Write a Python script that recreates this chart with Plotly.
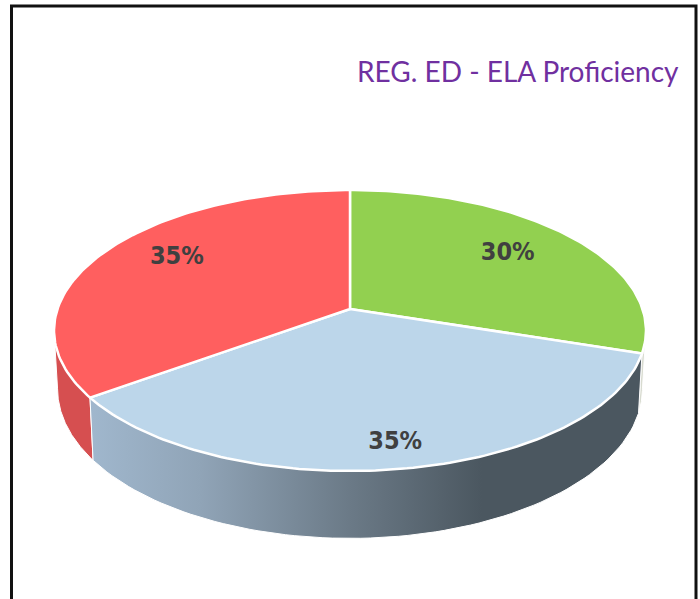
import numpy as np
import plotly.graph_objects as go

categories = ["Green", "Blue", "Red"]
shares = [30, 35, 35]
labels = ["30%", "35%", "35%"]
face_colors = ["#92d050", "#bcd6ea", "#ff5f5f"]
label_radius = [0.72, 0.86, 0.74]
label_turn = [-1, 0, 5]
title_text = "REG. ED - ELA Proficiency"

CX, CY, A, B, K = 350, 309, 292.5, 137.2, 0.153
A2, B2, Y2 = 289, 146, 366
LIMB = np.degrees(np.arccos(-K))


def top(theta, r=1.0):
    t = np.radians(theta)
    u, v = r * np.sin(t), r * np.cos(t)
    d = 1 + K * v
    return CX + A * u / d, CY - B * v / d


def bottom(theta):
    t = np.radians(theta)
    u, v = np.sin(t), np.cos(t)
    d = 1 + K * v
    return CX + A2 * u / d, Y2 - B2 * v / d


edges = np.concatenate([[0], np.cumsum(shares)]) * 3.6
fig = go.Figure()


def wall(a0, a1, **kw):
    th = np.linspace(a0, a1, 80)
    xt, yt = top(th)
    xb, yb = bottom(th[::-1])
    fig.add_trace(go.Scatter(
        x=np.r_[xt, xb, xt[0]], y=np.r_[yt, yb, yt[0]], mode="lines", fill="toself",
        line=dict(color="white", width=1), hoverinfo="skip", showlegend=False, **kw))


wall(LIMB, edges[1], fillcolor="#d8dbd0")
wall(edges[2], 360 - LIMB, fillcolor="#d64f50")
wall(edges[1], edges[2], fillgradient=dict(
    type="horizontal",
    colorscale=[[0, "#a0b7cd"], [0.2, "#90a4b7"], [0.47, "#6b7a87"], [0.71, "#4b5760"], [1, "#4b5760"]]))

for i, name in enumerate(categories):
    th = np.linspace(edges[i], edges[i + 1], 120)
    x, y = top(th)
    fig.add_trace(go.Scatter(
        x=np.r_[CX, x, CX], y=np.r_[CY, y, CY], mode="lines", fill="toself", name=name,
        fillcolor=face_colors[i], line=dict(color="white", width=2.5),
        hoverinfo="skip", showlegend=False))

for i, lab in enumerate(labels):
    lx, ly = top((edges[i] + edges[i + 1]) / 2 + label_turn[i], label_radius[i])
    fig.add_trace(go.Scatter(
        x=[lx], y=[ly], mode="text", text=[f"<b>{lab}</b>"], textposition="middle center",
        textfont=dict(family="DejaVu Sans Condensed, Liberation Sans", size=25, color="#404040"),
        hoverinfo="skip", showlegend=False))

fig.add_shape(type="rect", x0=11.5, x1=696, y0=6, y1=640, line=dict(color="#111111", width=3))
fig.add_annotation(x=681, y=70.5, text=title_text, showarrow=False, xanchor="right", yanchor="middle",
                   font=dict(family="Lato", size=28, color="#7030a0"))

fig.update_xaxes(visible=False, range=[0, 700], fixedrange=True)
fig.update_yaxes(visible=False, range=[599, 0], fixedrange=True)
fig.update_layout(width=700, height=599, margin=dict(l=0, r=0, t=0, b=0),
                  paper_bgcolor="white", plot_bgcolor="white", showlegend=False)
fig.write_html("out.html", config={"displayModeBar": False},
               post_script="document.body.style.margin='0';")
